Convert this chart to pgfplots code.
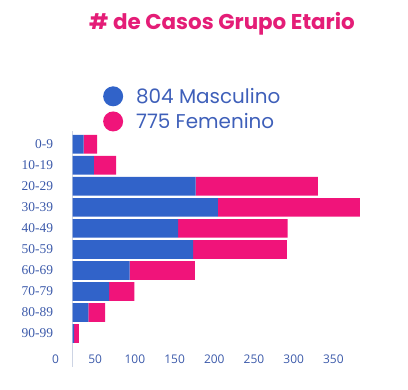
\documentclass[border=0pt]{standalone}
\usepackage{fontspec}
\usepackage{pgfplots}
\usepackage{pgfplotstable}
\pgfplotsset{compat=1.18}
\setmainfont{Liberation Serif}
\newfontfamily\pop{Poppins}
\newfontfamily\osans{Open Sans}
\definecolor{mblue}{RGB}{49,99,201}
\definecolor{fpink}{RGB}{240,20,122}
\definecolor{tpink}{RGB}{228,29,119}
\definecolor{lblue}{RGB}{62,95,185}
\definecolor{tblue}{RGB}{60,90,170}
\definecolor{axgray}{RGB}{205,212,228}
\pgfplotstableread{
label m f
0-9 14 17
10-19 27 28
20-29 155 154
30-39 183 179
40-49 133 138
50-59 152 118
60-69 72 82
70-79 46 32
80-89 20 21
90-99 2 6
}\data
\begin{document}
\begin{tikzpicture}
\path[use as bounding box] (0bp,0bp) rectangle (408bp,-390bp);
\node[font=\pop\bfseries\fontsize{21.5}{21.5}\selectfont, text=tpink] at (222bp,-24bp) {\# de Casos Grupo Etario};
\begin{axis}[
  at={(72.5bp,-131bp)}, anchor=north west,
  scale only axis, width=301.7bp, height=236bp,
  xbar stacked, bar width=18.7bp,
  xmin=0, xmax=380, ymin=-0.63, ymax=10.59, y dir=reverse,
  ytick={0,...,9},
  yticklabels={0-9,10-19,20-29,30-39,40-49,50-59,60-69,70-79,80-89,90-99},
  xtick={0,50,...,350},
  axis lines*=left,
  x axis line style={draw=none},
  y axis line style={draw=axgray, line width=0.8bp},
  major tick length=0pt,
  /pgf/number format/assume math mode=true,
  xticklabel style={font=\osans\fontsize{12}{12}\selectfont, text=tblue, anchor=center, yshift=8bp, xshift=-17bp},
  yticklabel style={font=\fontsize{13.5}{13.5}\selectfont, text=tblue, xshift=-16bp},
  legend style={draw=none, fill=none, at={(0.091,1.20)}, anchor=north west,
    font=\pop\fontsize{20}{20}\selectfont, text=lblue, row sep=4.5bp},
  legend cell align=left,
]
\addplot[fill=mblue, draw=none,
  legend image code/.code={\fill[mblue] (6bp,0bp) circle (10bp);\path (27bp,0bp);}]
  table[x=m, y expr=\coordindex] {\data};
\addlegendentry{804 Masculino}
\addplot[fill=fpink, draw=none,
  legend image code/.code={\fill[fpink] (6bp,0bp) circle (10bp);\path (27bp,0bp);}]
  table[x=f, y expr=\coordindex] {\data};
\addlegendentry{775 Femenino}
\end{axis}
\end{tikzpicture}
\end{document}
